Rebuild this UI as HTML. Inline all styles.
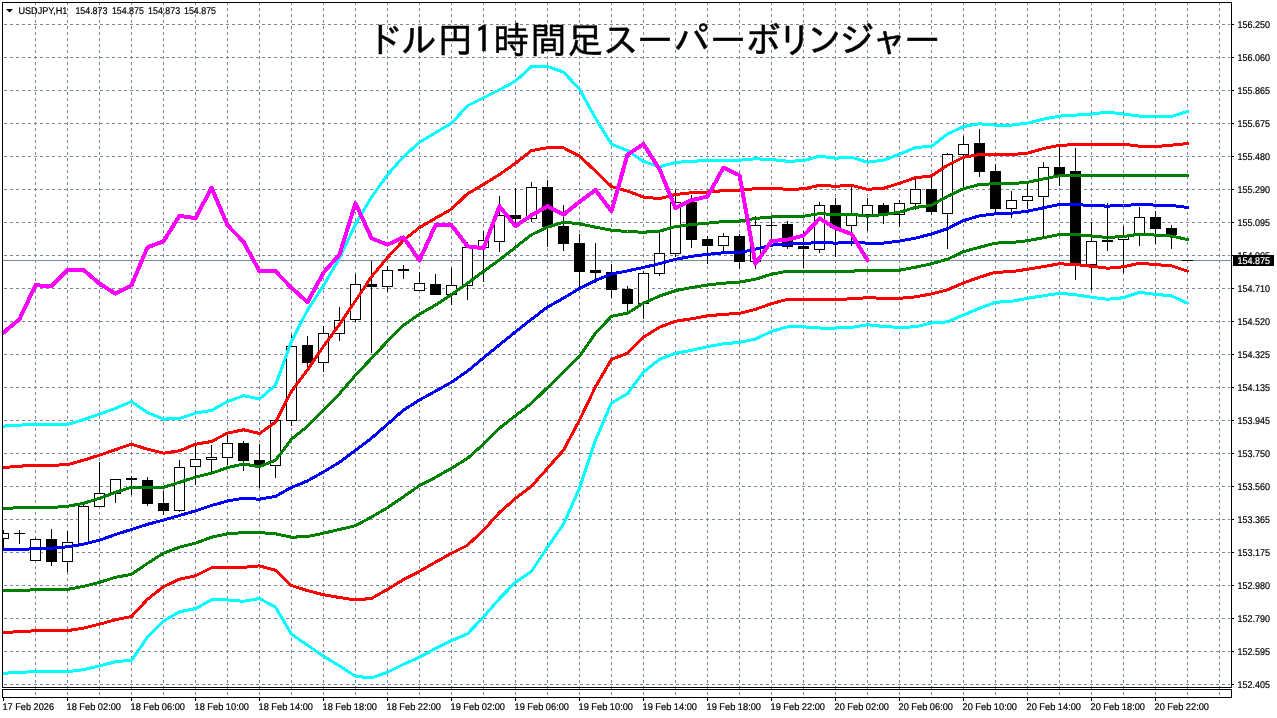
<!DOCTYPE html>
<html lang="ja"><head><meta charset="utf-8"><title>USDJPY,H1</title>
<style>html,body{margin:0;padding:0;background:#fff;overflow:hidden}svg{display:block}.t{font-family:"Liberation Sans","Noto Sans CJK JP",sans-serif;font-size:9.8px;fill:#000;stroke:#000;stroke-width:0.2px;text-rendering:geometricPrecision}.ttl{font-family:"IPAGothic","Noto Sans CJK JP","Liberation Sans",sans-serif;fill:#000}</style></head><body>
<svg width="1277" height="718" viewBox="0 0 1277 718">
<rect x="0" y="0" width="1277" height="718" fill="#fff"/>
<g stroke="#778899" stroke-width="1" stroke-dasharray="3 3" shape-rendering="crispEdges" fill="none">
<line x1="35.5" y1="2" x2="35.5" y2="697"/>
<line x1="67.5" y1="2" x2="67.5" y2="697"/>
<line x1="99.5" y1="2" x2="99.5" y2="697"/>
<line x1="131.5" y1="2" x2="131.5" y2="697"/>
<line x1="163.5" y1="2" x2="163.5" y2="697"/>
<line x1="195.5" y1="2" x2="195.5" y2="697"/>
<line x1="227.5" y1="2" x2="227.5" y2="697"/>
<line x1="259.5" y1="2" x2="259.5" y2="697"/>
<line x1="291.5" y1="2" x2="291.5" y2="697"/>
<line x1="323.5" y1="2" x2="323.5" y2="697"/>
<line x1="355.5" y1="2" x2="355.5" y2="697"/>
<line x1="387.5" y1="2" x2="387.5" y2="697"/>
<line x1="419.5" y1="2" x2="419.5" y2="697"/>
<line x1="451.5" y1="2" x2="451.5" y2="697"/>
<line x1="483.5" y1="2" x2="483.5" y2="697"/>
<line x1="515.5" y1="2" x2="515.5" y2="697"/>
<line x1="547.5" y1="2" x2="547.5" y2="697"/>
<line x1="579.5" y1="2" x2="579.5" y2="697"/>
<line x1="611.5" y1="2" x2="611.5" y2="697"/>
<line x1="643.5" y1="2" x2="643.5" y2="697"/>
<line x1="675.5" y1="2" x2="675.5" y2="697"/>
<line x1="707.5" y1="2" x2="707.5" y2="697"/>
<line x1="739.5" y1="2" x2="739.5" y2="697"/>
<line x1="771.5" y1="2" x2="771.5" y2="697"/>
<line x1="803.5" y1="2" x2="803.5" y2="697"/>
<line x1="835.5" y1="2" x2="835.5" y2="697"/>
<line x1="867.5" y1="2" x2="867.5" y2="697"/>
<line x1="899.5" y1="2" x2="899.5" y2="697"/>
<line x1="931.5" y1="2" x2="931.5" y2="697"/>
<line x1="963.5" y1="2" x2="963.5" y2="697"/>
<line x1="995.5" y1="2" x2="995.5" y2="697"/>
<line x1="1027.5" y1="2" x2="1027.5" y2="697"/>
<line x1="1059.5" y1="2" x2="1059.5" y2="697"/>
<line x1="1091.5" y1="2" x2="1091.5" y2="697"/>
<line x1="1123.5" y1="2" x2="1123.5" y2="697"/>
<line x1="1155.5" y1="2" x2="1155.5" y2="697"/>
<line x1="1187.5" y1="2" x2="1187.5" y2="697"/>
<line x1="1219.5" y1="2" x2="1219.5" y2="697"/>
<line x1="4" y1="24.5" x2="1230" y2="24.5"/>
<line x1="4" y1="57.5" x2="1230" y2="57.5"/>
<line x1="4" y1="90.5" x2="1230" y2="90.5"/>
<line x1="4" y1="123.5" x2="1230" y2="123.5"/>
<line x1="4" y1="156.5" x2="1230" y2="156.5"/>
<line x1="4" y1="189.5" x2="1230" y2="189.5"/>
<line x1="4" y1="222.5" x2="1230" y2="222.5"/>
<line x1="4" y1="255.5" x2="1230" y2="255.5"/>
<line x1="4" y1="288.5" x2="1230" y2="288.5"/>
<line x1="4" y1="321.5" x2="1230" y2="321.5"/>
<line x1="4" y1="354.5" x2="1230" y2="354.5"/>
<line x1="4" y1="387.5" x2="1230" y2="387.5"/>
<line x1="4" y1="420.5" x2="1230" y2="420.5"/>
<line x1="4" y1="453.5" x2="1230" y2="453.5"/>
<line x1="4" y1="486.5" x2="1230" y2="486.5"/>
<line x1="4" y1="519.5" x2="1230" y2="519.5"/>
<line x1="4" y1="552.5" x2="1230" y2="552.5"/>
<line x1="4" y1="585.5" x2="1230" y2="585.5"/>
<line x1="4" y1="618.5" x2="1230" y2="618.5"/>
<line x1="4" y1="651.5" x2="1230" y2="651.5"/>
<line x1="4" y1="684.5" x2="1230" y2="684.5"/>
</g>
<line x1="3" y1="260.5" x2="1231" y2="260.5" stroke="#778899" stroke-width="1" shape-rendering="crispEdges"/>
<text class="ttl" x="365.9 401.2 437.6 474.5 493.6 530.5 567.2 602.8 637.3 673.7 710.2 745.1 776.7 806.3 838.7 871.5 904.4" y="53" font-size="36" stroke="#000" stroke-width="0.5">ドル円1時間足スーパーボリンジャー</text>
<g shape-rendering="crispEdges" stroke="none">
<rect x="3" y="530" width="1" height="18" fill="#000"/>
<rect x="-2" y="533" width="11" height="6" fill="#000"/>
<rect x="-1" y="534" width="9" height="4" fill="#fff"/>
<rect x="19" y="530" width="1" height="14" fill="#000"/>
<rect x="14" y="533" width="11" height="1" fill="#000"/>
<rect x="35" y="538" width="1" height="23" fill="#000"/>
<rect x="30" y="539" width="11" height="22" fill="#000"/>
<rect x="31" y="540" width="9" height="20" fill="#fff"/>
<rect x="51" y="529" width="1" height="37" fill="#000"/>
<rect x="46" y="539" width="11" height="23" fill="#000"/>
<rect x="67" y="531" width="1" height="41" fill="#000"/>
<rect x="62" y="542" width="11" height="20" fill="#000"/>
<rect x="63" y="543" width="9" height="18" fill="#fff"/>
<rect x="83" y="504" width="1" height="40" fill="#000"/>
<rect x="78" y="506" width="11" height="38" fill="#000"/>
<rect x="79" y="507" width="9" height="36" fill="#fff"/>
<rect x="99" y="462" width="1" height="45" fill="#000"/>
<rect x="94" y="493" width="11" height="14" fill="#000"/>
<rect x="95" y="494" width="9" height="12" fill="#fff"/>
<rect x="115" y="479" width="1" height="24" fill="#000"/>
<rect x="110" y="479" width="11" height="15" fill="#000"/>
<rect x="111" y="480" width="9" height="13" fill="#fff"/>
<rect x="131" y="476" width="1" height="19" fill="#000"/>
<rect x="126" y="478" width="11" height="2" fill="#000"/>
<rect x="147" y="477" width="1" height="29" fill="#000"/>
<rect x="142" y="480" width="11" height="24" fill="#000"/>
<rect x="163" y="491" width="1" height="24" fill="#000"/>
<rect x="158" y="503" width="11" height="8" fill="#000"/>
<rect x="179" y="460" width="1" height="52" fill="#000"/>
<rect x="174" y="467" width="11" height="44" fill="#000"/>
<rect x="175" y="468" width="9" height="42" fill="#fff"/>
<rect x="195" y="445" width="1" height="40" fill="#000"/>
<rect x="190" y="459" width="11" height="8" fill="#000"/>
<rect x="191" y="460" width="9" height="6" fill="#fff"/>
<rect x="211" y="445" width="1" height="28" fill="#000"/>
<rect x="206" y="457" width="11" height="3" fill="#000"/>
<rect x="207" y="458" width="9" height="1" fill="#fff"/>
<rect x="227" y="435" width="1" height="30" fill="#000"/>
<rect x="222" y="443" width="11" height="15" fill="#000"/>
<rect x="223" y="444" width="9" height="13" fill="#fff"/>
<rect x="243" y="441" width="1" height="30" fill="#000"/>
<rect x="238" y="443" width="11" height="18" fill="#000"/>
<rect x="259" y="444" width="1" height="44" fill="#000"/>
<rect x="254" y="460" width="11" height="5" fill="#000"/>
<rect x="275" y="420" width="1" height="58" fill="#000"/>
<rect x="270" y="420" width="11" height="46" fill="#000"/>
<rect x="271" y="421" width="9" height="44" fill="#fff"/>
<rect x="291" y="335" width="1" height="91" fill="#000"/>
<rect x="286" y="346" width="11" height="75" fill="#000"/>
<rect x="287" y="347" width="9" height="73" fill="#fff"/>
<rect x="307" y="336" width="1" height="34" fill="#000"/>
<rect x="302" y="345" width="11" height="18" fill="#000"/>
<rect x="323" y="326" width="1" height="46" fill="#000"/>
<rect x="318" y="333" width="11" height="30" fill="#000"/>
<rect x="319" y="334" width="9" height="28" fill="#fff"/>
<rect x="339" y="307" width="1" height="34" fill="#000"/>
<rect x="334" y="320" width="11" height="14" fill="#000"/>
<rect x="335" y="321" width="9" height="12" fill="#fff"/>
<rect x="355" y="274" width="1" height="48" fill="#000"/>
<rect x="350" y="284" width="11" height="36" fill="#000"/>
<rect x="351" y="285" width="9" height="34" fill="#fff"/>
<rect x="371" y="261" width="1" height="92" fill="#000"/>
<rect x="366" y="284" width="11" height="3" fill="#000"/>
<rect x="387" y="266" width="1" height="26" fill="#000"/>
<rect x="382" y="270" width="11" height="17" fill="#000"/>
<rect x="383" y="271" width="9" height="15" fill="#fff"/>
<rect x="403" y="265" width="1" height="14" fill="#000"/>
<rect x="398" y="269" width="11" height="2" fill="#000"/>
<rect x="419" y="272" width="1" height="19" fill="#000"/>
<rect x="414" y="283" width="11" height="8" fill="#000"/>
<rect x="415" y="284" width="9" height="6" fill="#fff"/>
<rect x="435" y="274" width="1" height="21" fill="#000"/>
<rect x="430" y="284" width="11" height="11" fill="#000"/>
<rect x="451" y="268" width="1" height="37" fill="#000"/>
<rect x="446" y="285" width="11" height="10" fill="#000"/>
<rect x="447" y="286" width="9" height="8" fill="#fff"/>
<rect x="467" y="242" width="1" height="58" fill="#000"/>
<rect x="462" y="247" width="11" height="39" fill="#000"/>
<rect x="463" y="248" width="9" height="37" fill="#fff"/>
<rect x="483" y="231" width="1" height="51" fill="#000"/>
<rect x="478" y="240" width="11" height="8" fill="#000"/>
<rect x="479" y="241" width="9" height="6" fill="#fff"/>
<rect x="499" y="196" width="1" height="56" fill="#000"/>
<rect x="494" y="215" width="11" height="27" fill="#000"/>
<rect x="495" y="216" width="9" height="25" fill="#fff"/>
<rect x="515" y="188" width="1" height="35" fill="#000"/>
<rect x="510" y="215" width="11" height="4" fill="#000"/>
<rect x="531" y="182" width="1" height="40" fill="#000"/>
<rect x="526" y="187" width="11" height="32" fill="#000"/>
<rect x="527" y="188" width="9" height="30" fill="#fff"/>
<rect x="547" y="180" width="1" height="67" fill="#000"/>
<rect x="542" y="187" width="11" height="40" fill="#000"/>
<rect x="563" y="205" width="1" height="46" fill="#000"/>
<rect x="558" y="226" width="11" height="18" fill="#000"/>
<rect x="579" y="234" width="1" height="55" fill="#000"/>
<rect x="574" y="243" width="11" height="29" fill="#000"/>
<rect x="595" y="243" width="1" height="40" fill="#000"/>
<rect x="590" y="270" width="11" height="3" fill="#000"/>
<rect x="611" y="264" width="1" height="34" fill="#000"/>
<rect x="606" y="272" width="11" height="18" fill="#000"/>
<rect x="627" y="286" width="1" height="26" fill="#000"/>
<rect x="622" y="289" width="11" height="15" fill="#000"/>
<rect x="643" y="271" width="1" height="48" fill="#000"/>
<rect x="638" y="273" width="11" height="31" fill="#000"/>
<rect x="639" y="274" width="9" height="29" fill="#fff"/>
<rect x="659" y="233" width="1" height="43" fill="#000"/>
<rect x="654" y="253" width="11" height="21" fill="#000"/>
<rect x="655" y="254" width="9" height="19" fill="#fff"/>
<rect x="675" y="190" width="1" height="67" fill="#000"/>
<rect x="670" y="202" width="11" height="52" fill="#000"/>
<rect x="671" y="203" width="9" height="50" fill="#fff"/>
<rect x="691" y="195" width="1" height="53" fill="#000"/>
<rect x="686" y="202" width="11" height="38" fill="#000"/>
<rect x="707" y="236" width="1" height="28" fill="#000"/>
<rect x="702" y="239" width="11" height="7" fill="#000"/>
<rect x="723" y="233" width="1" height="19" fill="#000"/>
<rect x="718" y="236" width="11" height="10" fill="#000"/>
<rect x="719" y="237" width="9" height="8" fill="#fff"/>
<rect x="739" y="234" width="1" height="35" fill="#000"/>
<rect x="734" y="236" width="11" height="26" fill="#000"/>
<rect x="755" y="216" width="1" height="53" fill="#000"/>
<rect x="750" y="225" width="11" height="37" fill="#000"/>
<rect x="751" y="226" width="9" height="35" fill="#fff"/>
<rect x="771" y="218" width="1" height="24" fill="#000"/>
<rect x="766" y="225" width="11" height="1" fill="#000"/>
<rect x="787" y="221" width="1" height="28" fill="#000"/>
<rect x="782" y="224" width="11" height="23" fill="#000"/>
<rect x="803" y="231" width="1" height="37" fill="#000"/>
<rect x="798" y="246" width="11" height="3" fill="#000"/>
<rect x="819" y="202" width="1" height="51" fill="#000"/>
<rect x="814" y="205" width="11" height="45" fill="#000"/>
<rect x="815" y="206" width="9" height="43" fill="#fff"/>
<rect x="835" y="198" width="1" height="59" fill="#000"/>
<rect x="830" y="205" width="11" height="23" fill="#000"/>
<rect x="851" y="187" width="1" height="59" fill="#000"/>
<rect x="846" y="214" width="11" height="12" fill="#000"/>
<rect x="847" y="215" width="9" height="10" fill="#fff"/>
<rect x="867" y="198" width="1" height="33" fill="#000"/>
<rect x="862" y="205" width="11" height="10" fill="#000"/>
<rect x="863" y="206" width="9" height="8" fill="#fff"/>
<rect x="883" y="203" width="1" height="21" fill="#000"/>
<rect x="878" y="205" width="11" height="9" fill="#000"/>
<rect x="899" y="200" width="1" height="27" fill="#000"/>
<rect x="894" y="203" width="11" height="12" fill="#000"/>
<rect x="895" y="204" width="9" height="10" fill="#fff"/>
<rect x="915" y="179" width="1" height="31" fill="#000"/>
<rect x="910" y="189" width="11" height="15" fill="#000"/>
<rect x="911" y="190" width="9" height="13" fill="#fff"/>
<rect x="931" y="176" width="1" height="39" fill="#000"/>
<rect x="926" y="189" width="11" height="23" fill="#000"/>
<rect x="947" y="153" width="1" height="96" fill="#000"/>
<rect x="942" y="154" width="11" height="60" fill="#000"/>
<rect x="943" y="155" width="9" height="58" fill="#fff"/>
<rect x="963" y="136" width="1" height="53" fill="#000"/>
<rect x="958" y="144" width="11" height="11" fill="#000"/>
<rect x="959" y="145" width="9" height="9" fill="#fff"/>
<rect x="979" y="129" width="1" height="48" fill="#000"/>
<rect x="974" y="143" width="11" height="29" fill="#000"/>
<rect x="995" y="164" width="1" height="48" fill="#000"/>
<rect x="990" y="171" width="11" height="38" fill="#000"/>
<rect x="1011" y="191" width="1" height="27" fill="#000"/>
<rect x="1006" y="200" width="11" height="9" fill="#000"/>
<rect x="1007" y="201" width="9" height="7" fill="#fff"/>
<rect x="1027" y="184" width="1" height="25" fill="#000"/>
<rect x="1022" y="196" width="11" height="5" fill="#000"/>
<rect x="1023" y="197" width="9" height="3" fill="#fff"/>
<rect x="1043" y="162" width="1" height="75" fill="#000"/>
<rect x="1038" y="167" width="11" height="30" fill="#000"/>
<rect x="1039" y="168" width="9" height="28" fill="#fff"/>
<rect x="1059" y="147" width="1" height="39" fill="#000"/>
<rect x="1054" y="167" width="11" height="8" fill="#000"/>
<rect x="1075" y="148" width="1" height="132" fill="#000"/>
<rect x="1070" y="171" width="11" height="93" fill="#000"/>
<rect x="1091" y="222" width="1" height="68" fill="#000"/>
<rect x="1086" y="241" width="11" height="24" fill="#000"/>
<rect x="1087" y="242" width="9" height="22" fill="#fff"/>
<rect x="1107" y="203" width="1" height="48" fill="#000"/>
<rect x="1102" y="240" width="11" height="2" fill="#000"/>
<rect x="1123" y="226" width="1" height="47" fill="#000"/>
<rect x="1118" y="236" width="11" height="4" fill="#000"/>
<rect x="1119" y="237" width="9" height="2" fill="#fff"/>
<rect x="1139" y="207" width="1" height="39" fill="#000"/>
<rect x="1134" y="217" width="11" height="19" fill="#000"/>
<rect x="1135" y="218" width="9" height="17" fill="#fff"/>
<rect x="1155" y="211" width="1" height="33" fill="#000"/>
<rect x="1150" y="217" width="11" height="12" fill="#000"/>
<rect x="1171" y="225" width="1" height="24" fill="#000"/>
<rect x="1166" y="228" width="11" height="7" fill="#000"/>
<rect x="1187" y="260" width="1" height="1" fill="#000"/>
<rect x="1182" y="260" width="11" height="1" fill="#000"/>
</g>
<g>
<polyline points="3.5,426.1 19.5,425.1 35.5,424.5 51.5,424.5 67.5,424.5 83.5,419.7 99.5,414.1 115.5,408.4 131.5,401.6 147.5,412.5 163.5,419.1 179.5,418.5 195.5,413.1 211.5,410.4 227.5,401.6 243.5,395.7 259.5,399.0 275.5,385.2 291.5,341.2 307.5,310.2 323.5,285.5 339.5,258.2 355.5,224.2 371.5,197.1 387.5,174.8 403.5,156.7 419.5,142.3 435.5,132.7 451.5,123.2 467.5,105.8 483.5,97.7 499.5,89.8 515.5,81.1 531.5,66.5 547.5,66.5 563.5,72.1 579.5,89.1 595.5,118.2 611.5,144.3 627.5,150.6 643.5,161.4 659.5,166.9 675.5,162.4 691.5,161.2 707.5,160.7 723.5,160.4 739.5,160.2 755.5,158.8 771.5,159.6 787.5,161.2 803.5,160.8 819.5,156.2 835.5,158.2 851.5,157.2 867.5,162.2 883.5,160.2 899.5,154.2 915.5,147.6 931.5,146.2 947.5,134.1 963.5,126.5 979.5,123.8 995.5,125.1 1011.5,125.1 1027.5,123.1 1043.5,119.1 1059.5,116.1 1075.5,115.1 1091.5,114.1 1107.5,112.1 1123.5,114.1 1139.5,116.1 1155.5,116.5 1171.5,116.5 1187.5,111.5" fill="none" stroke="#00ffff" stroke-width="3" stroke-linejoin="round" stroke-linecap="round" shape-rendering="crispEdges"/>
<polyline points="3.5,673.3 19.5,672.3 35.5,671.7 51.5,671.7 67.5,671.7 83.5,669.7 99.5,665.9 115.5,661.7 131.5,660.3 147.5,637.2 163.5,621.1 179.5,611.8 195.5,608.6 211.5,599.8 227.5,600.0 243.5,601.3 259.5,598.5 275.5,607.2 291.5,634.2 307.5,645.2 323.5,656.2 339.5,665.9 355.5,676.3 371.5,677.9 387.5,672.3 403.5,664.3 419.5,657.2 435.5,648.6 451.5,640.6 467.5,633.8 483.5,617.0 499.5,598.5 515.5,582.3 531.5,571.3 547.5,547.2 563.5,524.1 579.5,488.2 595.5,440.2 611.5,403.0 627.5,393.7 643.5,372.2 659.5,359.3 675.5,353.3 691.5,350.3 707.5,346.7 723.5,343.8 739.5,342.4 755.5,339.0 771.5,331.4 787.5,326.8 803.5,326.8 819.5,328.0 835.5,328.0 851.5,327.4 867.5,324.8 883.5,326.4 899.5,327.4 915.5,326.8 931.5,323.0 947.5,321.8 963.5,315.0 979.5,308.3 995.5,302.3 1011.5,301.3 1027.5,298.3 1043.5,295.7 1059.5,293.3 1075.5,294.7 1091.5,297.3 1107.5,299.3 1123.5,297.7 1139.5,292.3 1155.5,294.3 1171.5,295.9 1187.5,303.3" fill="none" stroke="#00ffff" stroke-width="3" stroke-linejoin="round" stroke-linecap="round" shape-rendering="crispEdges"/>
<polyline points="3.5,467.6 19.5,466.2 35.5,465.2 51.5,465.2 67.5,464.8 83.5,460.2 99.5,455.2 115.5,449.6 131.5,444.2 147.5,449.2 163.5,453.2 179.5,450.8 195.5,444.2 211.5,441.5 227.5,433.1 243.5,429.8 259.5,433.5 275.5,422.2 291.5,391.2 307.5,370.0 323.5,346.3 339.5,324.5 355.5,300.8 371.5,276.7 387.5,257.6 403.5,240.3 419.5,227.6 435.5,218.2 451.5,209.2 467.5,193.7 483.5,184.5 499.5,174.5 515.5,163.2 531.5,150.6 547.5,147.7 563.5,147.8 579.5,156.0 595.5,171.2 611.5,186.5 627.5,191.1 643.5,197.1 659.5,198.7 675.5,194.5 691.5,192.7 707.5,192.1 723.5,190.7 739.5,190.2 755.5,188.7 771.5,188.3 787.5,189.3 803.5,188.9 819.5,185.3 835.5,186.3 851.5,185.3 867.5,189.3 883.5,188.3 899.5,183.3 915.5,177.7 931.5,175.9 947.5,165.2 963.5,157.2 979.5,154.6 995.5,154.6 1011.5,154.6 1027.5,153.2 1043.5,148.6 1059.5,145.2 1075.5,144.8 1091.5,144.2 1107.5,144.2 1123.5,144.2 1139.5,146.2 1155.5,146.6 1171.5,145.2 1187.5,143.6" fill="none" stroke="#ff0000" stroke-width="3" stroke-linejoin="round" stroke-linecap="round" shape-rendering="crispEdges"/>
<polyline points="3.5,632.6 19.5,631.6 35.5,630.8 51.5,630.8 67.5,630.6 83.5,628.2 99.5,624.2 115.5,619.7 131.5,616.5 147.5,599.3 163.5,586.7 179.5,579.2 195.5,575.8 211.5,567.7 227.5,567.7 243.5,567.3 259.5,565.9 275.5,570.3 291.5,585.6 307.5,590.6 323.5,594.8 339.5,597.5 355.5,600.0 371.5,598.4 387.5,589.4 403.5,579.6 419.5,571.3 435.5,562.2 451.5,553.2 467.5,545.2 483.5,530.2 499.5,512.5 515.5,498.4 531.5,486.2 547.5,468.3 563.5,450.2 579.5,420.2 595.5,386.7 611.5,359.3 627.5,353.3 643.5,337.2 659.5,327.2 675.5,321.2 691.5,318.8 707.5,315.8 723.5,314.4 739.5,313.3 755.5,309.3 771.5,303.7 787.5,299.3 803.5,299.3 819.5,299.9 835.5,299.3 851.5,298.9 867.5,297.7 883.5,298.3 899.5,298.3 915.5,296.9 931.5,293.9 947.5,289.9 963.5,282.9 979.5,277.2 995.5,272.2 1011.5,271.8 1027.5,269.2 1043.5,266.6 1059.5,263.8 1075.5,264.6 1091.5,266.2 1107.5,268.2 1123.5,266.8 1139.5,263.2 1155.5,264.6 1171.5,265.8 1187.5,271.2" fill="none" stroke="#ff0000" stroke-width="3" stroke-linejoin="round" stroke-linecap="round" shape-rendering="crispEdges"/>
<polyline points="3.5,508.5 19.5,507.7 35.5,507.5 51.5,507.5 67.5,506.3 83.5,503.3 99.5,498.3 115.5,492.3 131.5,487.3 147.5,487.3 163.5,487.3 179.5,482.3 195.5,477.2 211.5,473.2 227.5,467.6 243.5,464.0 259.5,466.7 275.5,460.3 291.5,439.2 307.5,426.2 323.5,410.1 339.5,393.7 355.5,375.2 371.5,358.3 387.5,341.2 403.5,325.2 419.5,314.2 435.5,305.1 451.5,294.5 467.5,283.3 483.5,271.4 499.5,259.9 515.5,247.3 531.5,234.7 547.5,227.2 563.5,222.2 579.5,223.8 595.5,227.2 611.5,230.2 627.5,231.6 643.5,232.2 659.5,231.2 675.5,226.6 691.5,224.6 707.5,223.2 723.5,221.6 739.5,221.2 755.5,218.4 771.5,217.0 787.5,216.6 803.5,216.2 819.5,213.6 835.5,214.6 851.5,214.2 867.5,216.2 883.5,214.6 899.5,212.2 915.5,207.4 931.5,205.3 947.5,196.3 963.5,188.7 979.5,184.5 995.5,183.7 1011.5,183.7 1027.5,182.3 1043.5,178.9 1059.5,175.7 1075.5,175.5 1091.5,175.5 1107.5,175.5 1123.5,175.5 1139.5,175.5 1155.5,175.5 1171.5,175.5 1187.5,175.5" fill="none" stroke="#008000" stroke-width="3" stroke-linejoin="round" stroke-linecap="round" shape-rendering="crispEdges"/>
<polyline points="3.5,590.4 19.5,590.4 35.5,589.8 51.5,589.8 67.5,589.4 83.5,586.4 99.5,582.3 115.5,577.3 131.5,574.3 147.5,563.3 163.5,553.2 179.5,547.2 195.5,543.2 211.5,537.2 227.5,533.8 243.5,532.6 259.5,532.6 275.5,533.8 291.5,537.2 307.5,536.6 323.5,533.2 339.5,529.5 355.5,525.7 371.5,517.0 387.5,507.7 403.5,496.7 419.5,485.6 435.5,477.3 451.5,468.3 467.5,458.3 483.5,444.2 499.5,428.2 515.5,415.7 531.5,403.2 547.5,387.7 563.5,372.1 579.5,356.3 595.5,333.2 611.5,316.3 627.5,313.2 643.5,303.1 659.5,296.1 675.5,290.6 691.5,287.5 707.5,285.0 723.5,283.2 739.5,282.1 755.5,279.2 771.5,274.2 787.5,271.2 803.5,271.2 819.5,271.2 835.5,271.2 851.5,271.2 867.5,270.2 883.5,270.2 899.5,270.2 915.5,267.2 931.5,263.8 947.5,259.2 963.5,251.7 979.5,247.3 995.5,243.1 1011.5,242.5 1027.5,240.7 1043.5,237.7 1059.5,234.5 1075.5,234.5 1091.5,236.1 1107.5,237.5 1123.5,236.5 1139.5,234.1 1155.5,235.1 1171.5,236.1 1187.5,239.5" fill="none" stroke="#008000" stroke-width="3" stroke-linejoin="round" stroke-linecap="round" shape-rendering="crispEdges"/>
<polyline points="3.5,549.6 19.5,549.6 35.5,548.6 51.5,548.2 67.5,546.8 83.5,544.2 99.5,540.2 115.5,534.5 131.5,529.5 147.5,524.3 163.5,520.1 179.5,515.5 195.5,510.9 211.5,505.5 227.5,501.0 243.5,498.3 259.5,499.2 275.5,496.4 291.5,487.4 307.5,480.9 323.5,471.9 339.5,462.3 355.5,450.2 371.5,438.2 387.5,424.2 403.5,410.1 419.5,400.0 435.5,391.2 451.5,382.2 467.5,371.2 483.5,357.8 499.5,344.8 515.5,331.8 531.5,319.2 547.5,307.1 563.5,298.1 579.5,288.5 595.5,280.4 611.5,274.0 627.5,270.9 643.5,267.4 659.5,263.7 675.5,259.3 691.5,256.3 707.5,254.3 723.5,252.8 739.5,252.7 755.5,249.1 771.5,245.1 787.5,244.1 803.5,243.5 819.5,242.5 835.5,243.1 851.5,242.5 867.5,243.1 883.5,243.1 899.5,241.1 915.5,238.1 931.5,234.0 947.5,228.7 963.5,220.6 979.5,215.8 995.5,213.8 1011.5,213.2 1027.5,211.2 1043.5,207.8 1059.5,204.5 1075.5,204.5 1091.5,205.6 1107.5,206.1 1123.5,205.5 1139.5,204.5 1155.5,205.1 1171.5,205.5 1187.5,207.4" fill="none" stroke="#0000ff" stroke-width="3" stroke-linejoin="round" stroke-linecap="round" shape-rendering="crispEdges"/>
<polyline points="3.5,332.6 19.5,319.2 35.5,285.2 51.5,286.2 67.5,270.0 83.5,270.0 99.5,283.6 115.5,293.7 131.5,285.2 147.5,247.3 163.5,241.3 179.5,215.8 195.5,218.2 211.5,187.7 227.5,225.2 243.5,241.8 259.5,271.2 275.5,271.2 291.5,287.8 307.5,302.1 323.5,272.7 339.5,254.5 355.5,203.2 371.5,238.3 387.5,244.7 403.5,237.3 419.5,260.3 435.5,225.2 451.5,225.2 467.5,246.3 483.5,248.3 499.5,206.2 515.5,226.2 531.5,215.2 547.5,206.2 563.5,214.6 579.5,201.8 595.5,190.1 611.5,211.2 627.5,154.6 643.5,144.2 659.5,169.2 675.5,208.2 691.5,200.2 707.5,196.5 723.5,167.6 739.5,175.2 755.5,263.8 771.5,241.1 787.5,239.7 803.5,235.7 819.5,218.5 835.5,228.1 851.5,234.1 867.5,260.2" fill="none" stroke="#ff00ff" stroke-width="4" stroke-linejoin="round" stroke-linecap="round" shape-rendering="crispEdges"/>
</g>
<g shape-rendering="crispEdges" fill="none" stroke="#000" stroke-width="1">
<rect x="0" y="0" width="3" height="718" fill="#fff" stroke="none"/>
<rect x="2.5" y="2.5" width="1229" height="685"/>
<rect x="2.5" y="689.5" width="1229" height="8"/>
<line x1="1232" y1="24.5" x2="1234" y2="24.5"/>
<line x1="1232" y1="57.5" x2="1234" y2="57.5"/>
<line x1="1232" y1="90.5" x2="1234" y2="90.5"/>
<line x1="1232" y1="123.5" x2="1234" y2="123.5"/>
<line x1="1232" y1="156.5" x2="1234" y2="156.5"/>
<line x1="1232" y1="189.5" x2="1234" y2="189.5"/>
<line x1="1232" y1="222.5" x2="1234" y2="222.5"/>
<line x1="1232" y1="255.5" x2="1234" y2="255.5"/>
<line x1="1232" y1="288.5" x2="1234" y2="288.5"/>
<line x1="1232" y1="321.5" x2="1234" y2="321.5"/>
<line x1="1232" y1="354.5" x2="1234" y2="354.5"/>
<line x1="1232" y1="387.5" x2="1234" y2="387.5"/>
<line x1="1232" y1="420.5" x2="1234" y2="420.5"/>
<line x1="1232" y1="453.5" x2="1234" y2="453.5"/>
<line x1="1232" y1="486.5" x2="1234" y2="486.5"/>
<line x1="1232" y1="519.5" x2="1234" y2="519.5"/>
<line x1="1232" y1="552.5" x2="1234" y2="552.5"/>
<line x1="1232" y1="585.5" x2="1234" y2="585.5"/>
<line x1="1232" y1="618.5" x2="1234" y2="618.5"/>
<line x1="1232" y1="651.5" x2="1234" y2="651.5"/>
<line x1="1232" y1="684.5" x2="1234" y2="684.5"/>
<line x1="3.5" y1="698" x2="3.5" y2="701"/>
<line x1="67.5" y1="698" x2="67.5" y2="701"/>
<line x1="131.5" y1="698" x2="131.5" y2="701"/>
<line x1="195.5" y1="698" x2="195.5" y2="701"/>
<line x1="259.5" y1="698" x2="259.5" y2="701"/>
<line x1="323.5" y1="698" x2="323.5" y2="701"/>
<line x1="387.5" y1="698" x2="387.5" y2="701"/>
<line x1="451.5" y1="698" x2="451.5" y2="701"/>
<line x1="515.5" y1="698" x2="515.5" y2="701"/>
<line x1="579.5" y1="698" x2="579.5" y2="701"/>
<line x1="643.5" y1="698" x2="643.5" y2="701"/>
<line x1="707.5" y1="698" x2="707.5" y2="701"/>
<line x1="771.5" y1="698" x2="771.5" y2="701"/>
<line x1="835.5" y1="698" x2="835.5" y2="701"/>
<line x1="899.5" y1="698" x2="899.5" y2="701"/>
<line x1="963.5" y1="698" x2="963.5" y2="701"/>
<line x1="1027.5" y1="698" x2="1027.5" y2="701"/>
<line x1="1091.5" y1="698" x2="1091.5" y2="701"/>
<line x1="1155.5" y1="698" x2="1155.5" y2="701"/>
</g>
<g class="t">
<text x="1237.5" y="28" textLength="32.5" lengthAdjust="spacingAndGlyphs">156.250</text>
<text x="1237.5" y="61" textLength="32.5" lengthAdjust="spacingAndGlyphs">156.060</text>
<text x="1237.5" y="94" textLength="32.5" lengthAdjust="spacingAndGlyphs">155.865</text>
<text x="1237.5" y="127" textLength="32.5" lengthAdjust="spacingAndGlyphs">155.675</text>
<text x="1237.5" y="160" textLength="32.5" lengthAdjust="spacingAndGlyphs">155.480</text>
<text x="1237.5" y="193" textLength="32.5" lengthAdjust="spacingAndGlyphs">155.290</text>
<text x="1237.5" y="226" textLength="32.5" lengthAdjust="spacingAndGlyphs">155.095</text>
<text x="1237.5" y="259" textLength="32.5" lengthAdjust="spacingAndGlyphs">154.905</text>
<text x="1237.5" y="292" textLength="32.5" lengthAdjust="spacingAndGlyphs">154.710</text>
<text x="1237.5" y="325" textLength="32.5" lengthAdjust="spacingAndGlyphs">154.520</text>
<text x="1237.5" y="358" textLength="32.5" lengthAdjust="spacingAndGlyphs">154.325</text>
<text x="1237.5" y="391" textLength="32.5" lengthAdjust="spacingAndGlyphs">154.135</text>
<text x="1237.5" y="424" textLength="32.5" lengthAdjust="spacingAndGlyphs">153.945</text>
<text x="1237.5" y="457" textLength="32.5" lengthAdjust="spacingAndGlyphs">153.750</text>
<text x="1237.5" y="490" textLength="32.5" lengthAdjust="spacingAndGlyphs">153.560</text>
<text x="1237.5" y="523" textLength="32.5" lengthAdjust="spacingAndGlyphs">153.365</text>
<text x="1237.5" y="556" textLength="32.5" lengthAdjust="spacingAndGlyphs">153.175</text>
<text x="1237.5" y="589" textLength="32.5" lengthAdjust="spacingAndGlyphs">152.980</text>
<text x="1237.5" y="622" textLength="32.5" lengthAdjust="spacingAndGlyphs">152.790</text>
<text x="1237.5" y="655" textLength="32.5" lengthAdjust="spacingAndGlyphs">152.595</text>
<text x="1237.5" y="688" textLength="32.5" lengthAdjust="spacingAndGlyphs">152.405</text>
</g>
<rect x="1233" y="255" width="41" height="11" fill="#000" shape-rendering="crispEdges"/>
<text class="t" x="1237.5" y="264" textLength="32.5" lengthAdjust="spacingAndGlyphs" style="fill:#fff;stroke:#fff">154.875</text>
<g class="t">
<text x="2.5" y="710" textLength="51.5" lengthAdjust="spacingAndGlyphs">17 Feb 2026</text>
<text x="66.5" y="710" textLength="54.5" lengthAdjust="spacingAndGlyphs">18 Feb 02:00</text>
<text x="130.5" y="710" textLength="54.5" lengthAdjust="spacingAndGlyphs">18 Feb 06:00</text>
<text x="194.5" y="710" textLength="54.5" lengthAdjust="spacingAndGlyphs">18 Feb 10:00</text>
<text x="258.5" y="710" textLength="54.5" lengthAdjust="spacingAndGlyphs">18 Feb 14:00</text>
<text x="322.5" y="710" textLength="54.5" lengthAdjust="spacingAndGlyphs">18 Feb 18:00</text>
<text x="386.5" y="710" textLength="54.5" lengthAdjust="spacingAndGlyphs">18 Feb 22:00</text>
<text x="450.5" y="710" textLength="54.5" lengthAdjust="spacingAndGlyphs">19 Feb 02:00</text>
<text x="514.5" y="710" textLength="54.5" lengthAdjust="spacingAndGlyphs">19 Feb 06:00</text>
<text x="578.5" y="710" textLength="54.5" lengthAdjust="spacingAndGlyphs">19 Feb 10:00</text>
<text x="642.5" y="710" textLength="54.5" lengthAdjust="spacingAndGlyphs">19 Feb 14:00</text>
<text x="706.5" y="710" textLength="54.5" lengthAdjust="spacingAndGlyphs">19 Feb 18:00</text>
<text x="770.5" y="710" textLength="54.5" lengthAdjust="spacingAndGlyphs">19 Feb 22:00</text>
<text x="834.5" y="710" textLength="54.5" lengthAdjust="spacingAndGlyphs">20 Feb 02:00</text>
<text x="898.5" y="710" textLength="54.5" lengthAdjust="spacingAndGlyphs">20 Feb 06:00</text>
<text x="962.5" y="710" textLength="54.5" lengthAdjust="spacingAndGlyphs">20 Feb 10:00</text>
<text x="1026.5" y="710" textLength="54.5" lengthAdjust="spacingAndGlyphs">20 Feb 14:00</text>
<text x="1090.5" y="710" textLength="54.5" lengthAdjust="spacingAndGlyphs">20 Feb 18:00</text>
<text x="1154.5" y="710" textLength="54.5" lengthAdjust="spacingAndGlyphs">20 Feb 22:00</text>
</g>
<path d="M6 9 L13 9 L9.5 12.5 Z" fill="#000"/>
<text class="t" y="14"><tspan x="18.4" textLength="49" lengthAdjust="spacingAndGlyphs">USDJPY,H1</tspan> <tspan x="75.4" textLength="32" lengthAdjust="spacingAndGlyphs">154.873</tspan> <tspan x="111.9" textLength="32" lengthAdjust="spacingAndGlyphs">154.875</tspan> <tspan x="148.1" textLength="32" lengthAdjust="spacingAndGlyphs">154.873</tspan> <tspan x="184" textLength="32" lengthAdjust="spacingAndGlyphs">154.875</tspan></text>
</svg></body></html>
